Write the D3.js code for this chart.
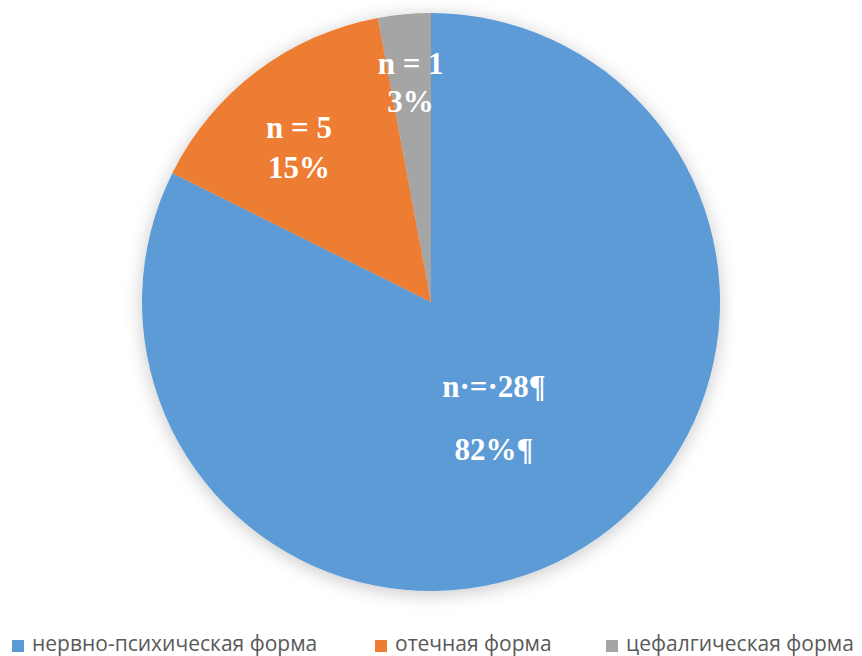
<!DOCTYPE html>
<html>
<head>
<meta charset="utf-8">
<script src="https://cdn.jsdelivr.net/npm/d3@7"></script>
<style>
    body { margin: 0; background: #fff; }
    svg { display: block; }
</style>
</head>
<body>
<div id="chart"></div>
<script>
(function () {
    'use strict';

    // data
    var categories = ['нервно-психическая форма', 'отечная форма', 'цефалгическая форма'];
    var counts = [28, 5, 1];
    var countLabels = ['n\u00B7=\u00B728\u00B6', 'n = 5', 'n = 1'];
    var percentLabels = ['82%\u00B6', '15%', '3%'];
    var colors = ['#5b9bd5', '#ed7d31', '#a5a5a5'];

    var width = 862,
        height = 656,
        cx = 431,
        cy = 302,
        radius = 289;

    var svg = d3.select('#chart')
        .append('svg')
        .attr('width', width)
        .attr('height', height);

    var defs = svg.append('defs');
    var shadow = defs.append('filter')
        .attr('id', 'shadow')
        .attr('x', '-20%').attr('y', '-20%')
        .attr('width', '140%').attr('height', '140%');
    shadow.append('feDropShadow')
        .attr('dx', 0).attr('dy', 3)
        .attr('stdDeviation', 9)
        .attr('flood-color', '#000')
        .attr('flood-opacity', 0.22);

    var color = d3.scaleOrdinal().domain(categories).range(colors);

    var pie = d3.pie()
        .sort(null)
        .value(function (d) { return d; });

    var arcs = pie(counts);

    var arc = d3.arc()
        .innerRadius(0)
        .outerRadius(radius);

    var g = svg.append('g')
        .attr('transform', 'translate(' + cx + ',' + cy + ')');

    g.append('g')
        .attr('filter', 'url(#shadow)')
        .selectAll('path')
        .data(arcs)
        .enter().append('path')
        .attr('d', arc)
        .attr('fill', function (d, i) { return color(categories[i]); });

    // label placement: share of the radius and a small turn off the mid angle
    var labelShare = [0.455, 0.705, 0.765];
    var labelTurn = [0.056, -0.058, 0];
    var gap = [63, 40, 38];

    var labels = g.append('g')
        .attr('class', 'labels')
        .selectAll('g')
        .data(arcs)
        .enter().append('g')
        .attr('transform', function (d, i) {
            var r = radius * labelShare[i];
            var a = (d.startAngle + d.endAngle) / 2 + labelTurn[i];
            return 'translate(' + (r * Math.sin(a)) + ',' + (-r * Math.cos(a)) + ')';
        });

    labels.append('text')
        .attr('y', function (d, i) { return -gap[i] / 2 + 11; })
        .text(function (d, i) { return countLabels[i]; });

    labels.append('text')
        .attr('y', function (d, i) { return gap[i] / 2 + 11; })
        .text(function (d, i) { return percentLabels[i]; });

    labels.selectAll('text')
        .attr('text-anchor', 'middle')
        .attr('fill', '#fff')
        .attr('font-family', '"Liberation Serif", "Times New Roman", serif')
        .attr('font-weight', 'bold')
        .attr('font-size', 31);

    // legend along the bottom edge
    var legendX = [12, 375, 606];
    var legend = svg.append('g')
        .attr('class', 'legend')
        .selectAll('g')
        .data(categories)
        .enter().append('g')
        .attr('transform', function (d, i) {
            return 'translate(' + legendX[i] + ',640)';
        });

    legend.append('rect')
        .attr('width', 12)
        .attr('height', 12)
        .attr('fill', function (d) { return color(d); });

    legend.append('text')
        .attr('x', 20)
        .attr('y', 11)
        .attr('fill', '#595959')
        .attr('font-family', '"Open Sans", sans-serif')
        .attr('font-size', 21)
        .text(function (d) { return d; });
})();
</script>
</body>
</html>
